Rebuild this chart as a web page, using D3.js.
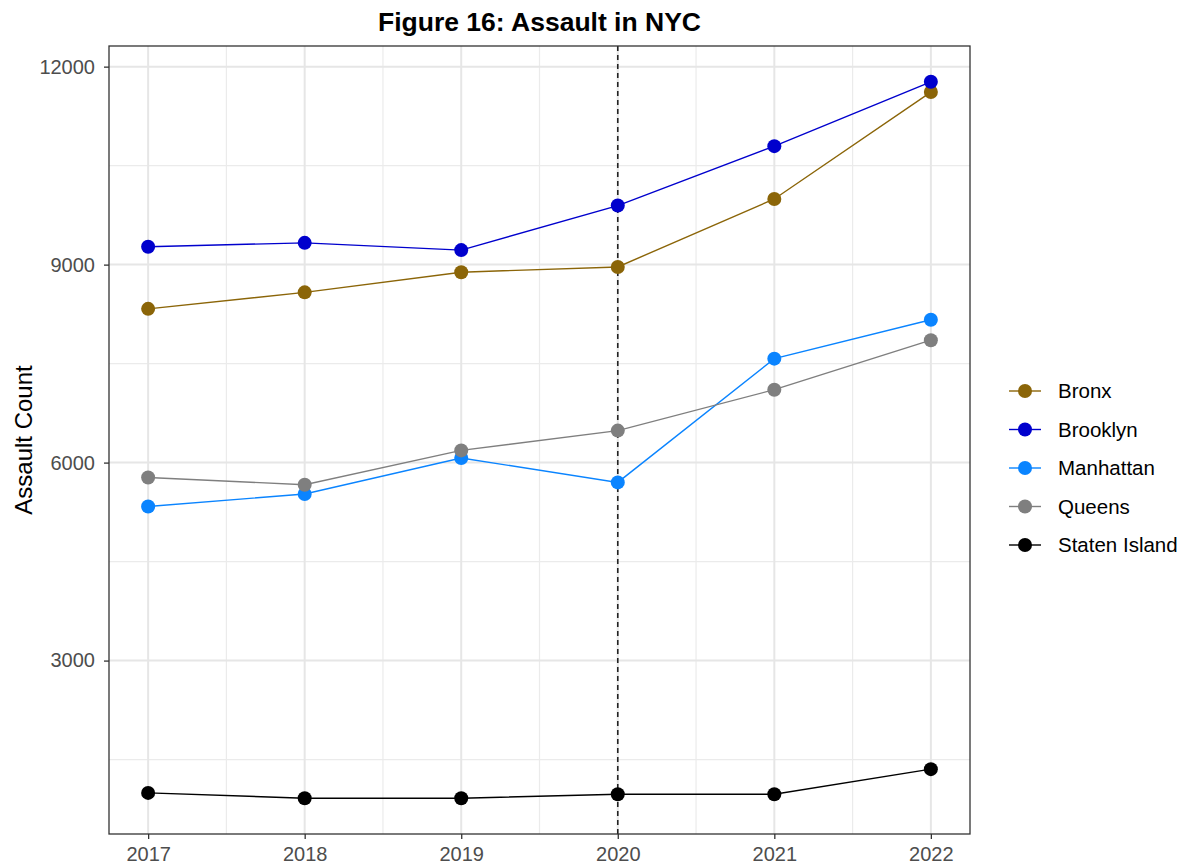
<!DOCTYPE html>
<html>
<head>
<meta charset="utf-8">
<script src="https://cdn.jsdelivr.net/npm/d3@7"></script>
<style>
  html, body { margin: 0; padding: 0; background: #fff; }
  svg { display: block; font-family: "Liberation Sans", Arial, sans-serif; }
</style>
</head>
<body>
<svg id="chart" width="1186" height="864"></svg>
<script>
const years = [2017, 2018, 2019, 2020, 2021, 2022];
const boroughs = ["Bronx", "Brooklyn", "Manhattan", "Queens", "Staten Island"];
const bronx = [8330, 8580, 8885, 8965, 9995, 11615];
const brooklyn = [9270, 9330, 9220, 9895, 10795, 11770];
const manhattan = [5335, 5525, 6070, 5700, 7575, 8165];
const queens = [5775, 5665, 6185, 6485, 7105, 7855];
const statenIsland = [995, 915, 915, 975, 975, 1355];
const yTicks = [3000, 6000, 9000, 12000];
const yMinor = [1500, 4500, 7500, 10500];
const colors = ["#8B6508", "#0000CD", "#0A84FF", "#7F7F7F", "#000000"];
const seriesValues = [bronx, brooklyn, manhattan, queens, statenIsland];
const markerYear = 2020;

const svg = d3.select("#chart");
const panel = { left: 109, right: 970, top: 46, bottom: 834 };

const allVals = seriesValues.flat();
const yMin = d3.min(allVals), yMax = d3.max(allVals);
const yPad = (yMax - yMin) * 0.05;
const xPad = (d3.max(years) - d3.min(years)) * 0.05;

const x = d3.scaleLinear()
  .domain([d3.min(years) - xPad, d3.max(years) + xPad])
  .range([panel.left, panel.right]);
const y = d3.scaleLinear()
  .domain([yMin - yPad, yMax + yPad])
  .range([panel.bottom, panel.top]);

const xMinor = years.slice(0, -1).map(v => v + 0.5);

// grid
const grid = svg.append("g");
grid.selectAll(".ymn").data(yMinor).enter().append("line")
  .attr("x1", panel.left).attr("x2", panel.right)
  .attr("y1", d => y(d)).attr("y2", d => y(d))
  .attr("stroke", "#ebebeb").attr("stroke-width", 1.2);
grid.selectAll(".xmn").data(xMinor).enter().append("line")
  .attr("y1", panel.top).attr("y2", panel.bottom)
  .attr("x1", d => x(d)).attr("x2", d => x(d))
  .attr("stroke", "#ebebeb").attr("stroke-width", 1.2);
grid.selectAll(".ymj").data(yTicks).enter().append("line")
  .attr("x1", panel.left).attr("x2", panel.right)
  .attr("y1", d => y(d)).attr("y2", d => y(d))
  .attr("stroke", "#e6e6e6").attr("stroke-width", 2);
grid.selectAll(".xmj").data(years).enter().append("line")
  .attr("y1", panel.top).attr("y2", panel.bottom)
  .attr("x1", d => x(d)).attr("x2", d => x(d))
  .attr("stroke", "#e6e6e6").attr("stroke-width", 2);

// dashed vertical line
svg.append("line")
  .attr("x1", x(markerYear)).attr("x2", x(markerYear))
  .attr("y1", panel.top).attr("y2", panel.bottom)
  .attr("stroke", "#222").attr("stroke-width", 1.6)
  .attr("stroke-dasharray", "5,4");

// series
const line = d3.line().x((d, i) => x(years[i])).y(d => y(d));
boroughs.forEach((b, k) => {
  const g = svg.append("g");
  g.append("path").datum(seriesValues[k])
    .attr("d", line).attr("fill", "none")
    .attr("stroke", colors[k]).attr("stroke-width", 1.4);
  g.selectAll("circle").data(seriesValues[k]).enter().append("circle")
    .attr("cx", (d, i) => x(years[i])).attr("cy", d => y(d))
    .attr("r", 7).attr("fill", colors[k]);
});

// panel border
svg.append("rect")
  .attr("x", panel.left).attr("y", panel.top)
  .attr("width", panel.right - panel.left).attr("height", panel.bottom - panel.top)
  .attr("fill", "none").attr("stroke", "#333").attr("stroke-width", 1.3);

// axes
const xAxis = svg.append("g").attr("transform", `translate(0,${panel.bottom})`)
  .call(d3.axisBottom(x).tickValues(years).tickFormat(d3.format("d")).tickSize(5).tickPadding(8));
const yAxis = svg.append("g").attr("transform", `translate(${panel.left},0)`)
  .call(d3.axisLeft(y).tickValues(yTicks).tickFormat(d3.format("d")).tickSize(5).tickPadding(9));
[xAxis, yAxis].forEach(a => {
  a.select(".domain").remove();
  a.selectAll(".tick line").attr("stroke", "#333").attr("stroke-width", 1.3);
  a.selectAll(".tick text").attr("fill", "#4d4d4d").style("font-size", "20px")
    .style("font-family", "'Liberation Sans', Arial, sans-serif");
});

// title
svg.append("text")
  .attr("x", (panel.left + panel.right) / 2).attr("y", 31)
  .attr("text-anchor", "middle")
  .style("font-size", "26.5px").style("font-weight", "bold")
  .attr("fill", "#000")
  .text("Figure 16: Assault in NYC");

// y label
svg.append("text")
  .attr("transform", `translate(32,${(panel.top + panel.bottom) / 2}) rotate(-90)`)
  .attr("text-anchor", "middle")
  .style("font-size", "24px").attr("fill", "#000")
  .text("Assault Count");

// legend
const legend = svg.append("g");
const ly0 = 391, ldy = 38.5;
boroughs.forEach((b, k) => {
  const ly = ly0 + k * ldy;
  legend.append("line").attr("x1", 1009).attr("x2", 1041)
    .attr("y1", ly).attr("y2", ly)
    .attr("stroke", colors[k]).attr("stroke-width", 1.4);
  legend.append("circle").attr("cx", 1025).attr("cy", ly).attr("r", 7)
    .attr("fill", colors[k]);
  legend.append("text").attr("x", 1058).attr("y", ly).attr("dy", "0.35em")
    .style("font-size", "20.5px").attr("fill", "#000").text(b);
});
</script>
</body>
</html>
